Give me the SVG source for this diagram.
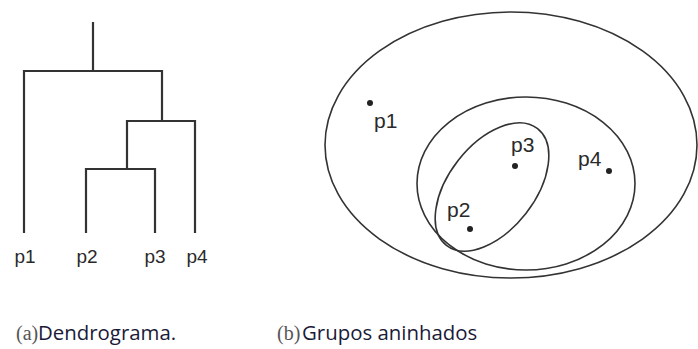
<svg xmlns="http://www.w3.org/2000/svg" width="698" height="349" viewBox="0 0 698 349">
<style>
.ln{fill:none;stroke:#333;stroke-width:2.2;stroke-linecap:butt}
.el{fill:none;stroke:#333;stroke-width:1.6}
.lbl{font-family:"Liberation Sans",Arial,sans-serif;font-size:19px;fill:#2a2a2a}
.lbl2{font-family:"Liberation Sans",Arial,sans-serif;font-size:21px;fill:#2a2a2a}
.dot{fill:#222}
.cap{font-family:"Liberation Serif","Times New Roman",serif;font-size:20px;fill:#555}
.capt{font-family:"Open Sans","Noto Sans",sans-serif;font-size:20.4px;fill:#1a1a38}
</style>
<rect width="698" height="349" fill="#fff"/>
<g id="dendrogram">
<g id="connectors">
<path class="ln" d="M93 22V71M24 233V71H162V121M127 169V121H195V233M86 233V169H155V233"/>
</g>
<g id="d-p1"><text class="lbl" x="25" y="263" text-anchor="middle">p1</text></g>
<g id="d-p2"><text class="lbl" x="87" y="263" text-anchor="middle">p2</text></g>
<g id="d-p3"><text class="lbl" x="155" y="263" text-anchor="middle">p3</text></g>
<g id="d-p4"><text class="lbl" x="197" y="263" text-anchor="middle">p4</text></g>
</g>
<g id="nested">
<g id="outer"><ellipse class="el" cx="511" cy="145" rx="186" ry="133"/></g>
<g id="middle"><ellipse class="el" cx="526" cy="183.5" rx="109" ry="86.5"/></g>
<g id="inner"><ellipse class="el" cx="492" cy="187" rx="74" ry="43" transform="rotate(-52 492 187)"/></g>
<g id="n-p1"><circle class="dot" cx="370" cy="103" r="3"/><text class="lbl2" x="374" y="128">p1</text></g>
<g id="n-p2"><circle class="dot" cx="470" cy="229" r="3"/><text class="lbl2" x="447" y="217">p2</text></g>
<g id="n-p3"><circle class="dot" cx="515" cy="166" r="3"/><text class="lbl2" x="511" y="152">p3</text></g>
<g id="n-p4"><circle class="dot" cx="609" cy="171" r="3"/><text class="lbl2" x="578" y="166">p4</text></g>
</g>
<g id="captions">
<text x="16" y="340"><tspan class="cap">(a)</tspan><tspan class="capt" x="38">Dendrograma.</tspan></text>
<text x="277" y="340"><tspan class="cap">(b)</tspan><tspan class="capt" x="302">Grupos aninhados</tspan></text>
</g>
</svg>
